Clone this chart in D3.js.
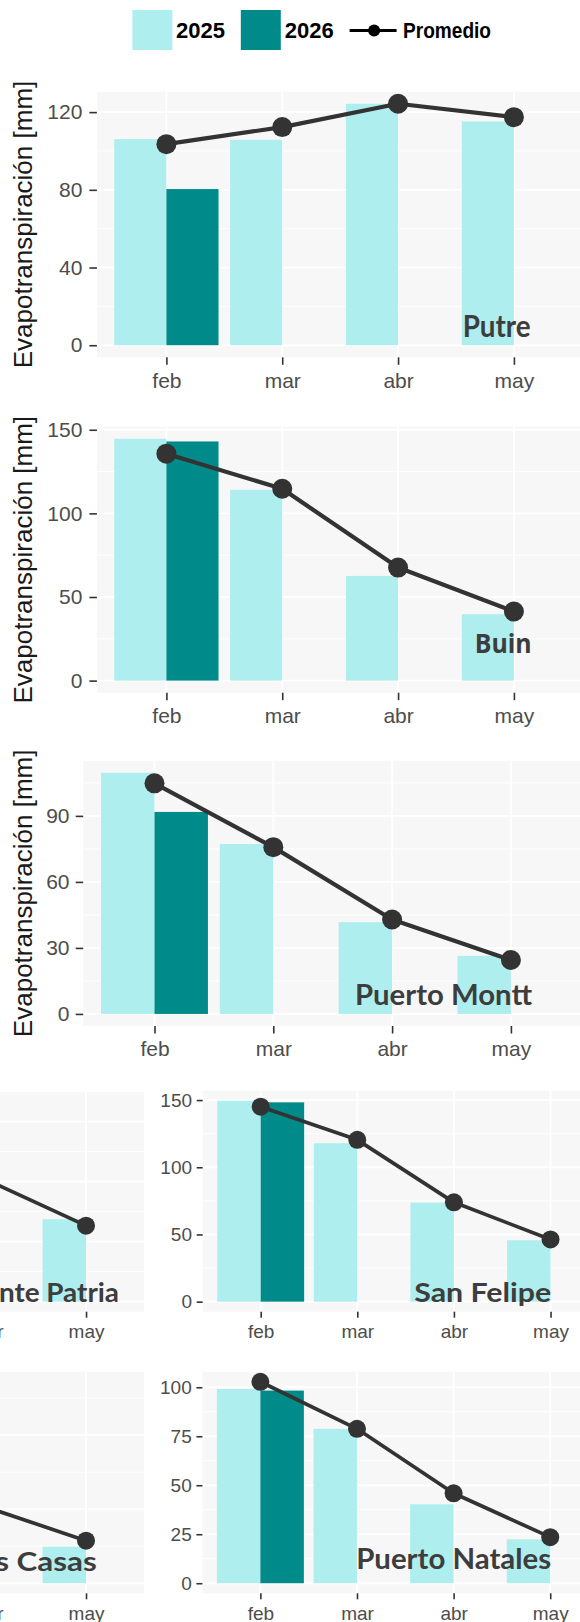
<!DOCTYPE html>
<html>
<head>
<meta charset="utf-8">
<script src="https://cdn.jsdelivr.net/npm/d3@7"></script>
<style>
  html, body { margin: 0; padding: 0; background: #ffffff; }
  svg { display: block; }
</style>
</head>
<body>
<script>
// ---------------- DATA ----------------
const months = ["feb", "mar", "abr", "may"];
const seriesNames = ["2025", "2026", "Promedio"];

const putre2025 = [106.1, 105.8, 124.3, 115.2];
const putre2026 = [80.4, null, null, null];
const putreProm = [103.5, 112.3, 124.3, 117.4];

const buin2025 = [144.6, 114.1, 62.6, 39.7];
const buin2026 = [143.0, null, null, null];
const buinProm = [135.7, 114.7, 67.6, 41.3];

const montt2025 = [109.6, 77.2, 41.7, 26.4];
const montt2026 = [91.8, null, null, null];
const monttProm = [104.8, 75.8, 42.9, 24.5];

const patria2025 = [167.4, 135.0, 96.0, 68.7];
const patria2026 = [160.0, null, null, null];
const patriaProm = [158.0, 132.0, 100.5, 63.3];

const felipe2025 = [149.5, 117.9, 73.7, 45.7];
const felipe2026 = [148.3, null, null, null];
const felipeProm = [145.1, 120.4, 73.9, 46.3];

const casas2025 = [136.0, 90.0, 45.0, 24.7];
const casas2026 = [130.0, null, null, null];
const casasProm = [128.0, 88.0, 50.7, 28.7];

const natales2025 = [99.1, 78.8, 40.3, 22.4];
const natales2026 = [98.3, null, null, null];
const natalesProm = [102.8, 78.8, 45.9, 23.5];

const ticksPutre = [0, 40, 80, 120];
const ticksBuin = [0, 50, 100, 150];
const ticksMontt = [0, 30, 60, 90];
const ticksPatria = [0, 50, 100, 150];
const ticksFelipe = [0, 50, 100, 150];
const ticksCasas = [0, 50, 100];
const ticksNatales = [0, 25, 50, 75, 100];

const yTitle = "Evapotranspiración [mm]";

// ---------------- STYLE / LAYOUT ----------------
const C2025 = "#AFEEEE", C2026 = "#008B8B", CLINE = "#333333";
const PANEL_BG = "#F7F7F7", LABEL_C = "#3D3D3D", AXIS_TXT = "#4D4D4D";

const panels = [
  { name: "Putre", s25: putre2025, s26: putre2026, prom: putreProm, ticks: ticksPutre,
    x0: 96.9, x1: 583.4, y0: 91.7, y1: 357.3, fs: 21, tl: 7.5, tpY: 7, tpX: 8, r: 10, lw: 4.2, title: true,
    lab: { x: 530.7, y: 336.7, size: 30, len: 68, font: "Lato" } },
  { name: "Buin", s25: buin2025, s26: buin2026, prom: buinProm, ticks: ticksBuin,
    x0: 96.9, x1: 583.4, y0: 426.7, y1: 692.7, fs: 21, tl: 7.5, tpY: 7, tpX: 8, r: 10, lw: 4.2, title: true,
    lab: { x: 531.7, y: 652.7, size: 27, len: 57, font: "Open Sans" } },
  { name: "Puerto Montt", s25: montt2025, s26: montt2026, prom: monttProm, ticks: ticksMontt,
    x0: 83.2, x1: 582.2, y0: 760.7, y1: 1026, fs: 21, tl: 7.5, tpY: 6.2, tpX: 8, r: 10, lw: 4.2, title: true,
    lab: { x: 532, y: 1005, size: 28, len: 177, font: "Lato" } },
  { name: "Monte Patria", s25: patria2025, s26: patria2026, prom: patriaProm, ticks: ticksPatria,
    x0: -261.8, x1: 144, y0: 1090.7, y1: 1311.7, fs: 19, tl: 6, tpY: 4.7, tpX: 7, r: 9, lw: 3.7, title: false,
    lab: { x: 119, y: 1301.7, size: 27, len: 162, font: "Lato" } },
  { name: "San Felipe", s25: felipe2025, s26: felipe2026, prom: felipeProm, ticks: ticksFelipe,
    x0: 202.7, x1: 608.5, y0: 1090.7, y1: 1311.7, fs: 19, tl: 6, tpY: 4.7, tpX: 7, r: 9, lw: 3.7, title: false,
    lab: { x: 551.2, y: 1301.7, size: 27, len: 137, font: "Lato" } },
  { name: "Padre Las Casas", s25: casas2025, s26: casas2026, prom: casasProm, ticks: ticksCasas,
    x0: -261.8, x1: 144, y0: 1371.7, y1: 1593.3, fs: 19, tl: 6, tpY: 4.7, tpX: 7, r: 9, lw: 3.7, title: false,
    lab: { x: 96.7, y: 1570.7, size: 26, len: 222, font: "Lato" } },
  { name: "Puerto Natales", s25: natales2025, s26: natales2026, prom: natalesProm, ticks: ticksNatales,
    x0: 202.4, x1: 608.2, y0: 1371.7, y1: 1593.3, fs: 19, tl: 6, tpY: 4.7, tpX: 7, r: 9, lw: 3.7, title: false,
    lab: { x: 551.2, y: 1569.3, size: 28, len: 195, font: "Lato" } }
];

const svg = d3.select("body").append("svg")
  .attr("width", 580).attr("height", 1622)
  .attr("viewBox", "0 0 580 1622");

panels.forEach(p => {
  const g = svg.append("g");
  const x = d3.scalePoint().domain(months).range([p.x0, p.x1]).padding(0.6);
  const bw = 0.45 * x.step();
  const all = [...p.s25, ...p.s26, ...p.prom].filter(v => v != null);
  const mx = d3.max(all);
  const y = d3.scaleLinear().domain([-0.05 * mx, 1.05 * mx]).range([p.y1, p.y0]);
  const [dLo, dHi] = y.domain();

  // background
  g.append("rect").attr("x", p.x0).attr("y", p.y0)
    .attr("width", p.x1 - p.x0).attr("height", p.y1 - p.y0).attr("fill", PANEL_BG);

  // minor gridlines
  const minors = [];
  for (let i = 0; i < p.ticks.length; i++) {
    const step = p.ticks[1] - p.ticks[0];
    const m = p.ticks[i] + step / 2;
    if (m > dLo && m < dHi) minors.push(m);
  }
  g.selectAll(".minor").data(minors).join("line")
    .attr("x1", p.x0).attr("x2", p.x1)
    .attr("y1", d => y(d)).attr("y2", d => y(d))
    .attr("stroke", "#ffffff").attr("stroke-width", 0.9);
  // major gridlines
  g.selectAll(".major").data(p.ticks).join("line")
    .attr("x1", p.x0).attr("x2", p.x1)
    .attr("y1", d => y(d)).attr("y2", d => y(d))
    .attr("stroke", "#ffffff").attr("stroke-width", 1.8);
  g.selectAll(".vmajor").data(months).join("line")
    .attr("x1", d => x(d)).attr("x2", d => x(d))
    .attr("y1", p.y0).attr("y2", p.y1)
    .attr("stroke", "#ffffff").attr("stroke-width", 1.8);

  // bars 2025
  g.selectAll(".b25").data(months.map((m, i) => ({ m, v: p.s25[i] })).filter(d => d.v != null))
    .join("rect")
    .attr("x", d => x(d.m) - bw).attr("width", bw)
    .attr("y", d => y(d.v)).attr("height", d => y(0) - y(d.v))
    .attr("fill", C2025);
  // bars 2026
  g.selectAll(".b26").data(months.map((m, i) => ({ m, v: p.s26[i] })).filter(d => d.v != null))
    .join("rect")
    .attr("x", d => x(d.m)).attr("width", bw)
    .attr("y", d => y(d.v)).attr("height", d => y(0) - y(d.v))
    .attr("fill", C2026);

  // line + points
  const pts = months.map((m, i) => ({ m, v: p.prom[i] }));
  g.append("path").datum(pts)
    .attr("d", d3.line().x(d => x(d.m)).y(d => y(d.v)))
    .attr("fill", "none").attr("stroke", CLINE).attr("stroke-width", p.lw)
    .attr("stroke-linejoin", "round");
  g.selectAll(".pt").data(pts).join("circle")
    .attr("cx", d => x(d.m)).attr("cy", d => y(d.v)).attr("r", p.r)
    .attr("fill", CLINE);

  // station label
  g.append("text")
    .attr("x", p.lab.x).attr("y", p.lab.y)
    .attr("text-anchor", "end")
    .attr("font-family", p.lab.font + ", sans-serif")
    .attr("font-weight", 700)
    .attr("font-size", p.lab.size)
    .attr("fill", LABEL_C)
    .attr("textLength", p.lab.len)
    .attr("lengthAdjust", "spacingAndGlyphs")
    .text(p.name);

  // axes
  const ay = g.append("g").attr("transform", `translate(${p.x0},0)`)
    .call(d3.axisLeft(y).tickValues(p.ticks).tickSize(p.tl).tickPadding(p.tpY).tickFormat(d3.format("d")));
  const ax = g.append("g").attr("transform", `translate(0,${p.y1})`)
    .call(d3.axisBottom(x).tickSize(p.tl).tickPadding(p.tpX));
  [ay, ax].forEach(a => {
    a.select(".domain").remove();
    a.selectAll(".tick line").attr("stroke", "#333333").attr("stroke-width", 1.6);
    a.selectAll(".tick text").attr("fill", AXIS_TXT)
      .attr("font-family", "'Liberation Sans', Arial, sans-serif")
      .attr("font-size", p.fs);
  });

  if (p.title) {
    g.append("text")
      .attr("transform", `translate(31.9,${(p.y0 + p.y1) / 2}) rotate(-90)`)
      .attr("text-anchor", "middle")
      .attr("font-family", "'Liberation Sans', Arial, sans-serif")
      .attr("font-size", 26)
      .attr("fill", "#1a1a1a")
      .text(yTitle);
  }
});

// ---------------- LEGEND ----------------
const leg = svg.append("g");
const legItems = [
  { name: seriesNames[0], type: "rect", color: C2025, kx: 132.4, tx: 176 },
  { name: seriesNames[1], type: "rect", color: C2026, kx: 240.8, tx: 284.8 },
  { name: seriesNames[2], type: "line", color: "#000000", kx: 349.6, tx: 403, len: 88 }
];
legItems.forEach(it => {
  if (it.type === "rect") {
    leg.append("rect").attr("x", it.kx).attr("y", 10).attr("width", 40).attr("height", 40).attr("fill", it.color);
  } else {
    leg.append("line").attr("x1", it.kx).attr("x2", it.kx + 47).attr("y1", 30.5).attr("y2", 30.5)
      .attr("stroke", it.color).attr("stroke-width", 3);
    leg.append("circle").attr("cx", it.kx + 24.5).attr("cy", 30.5).attr("r", 6).attr("fill", it.color);
  }
  const t = leg.append("text").attr("x", it.tx).attr("y", 37.5)
    .attr("font-family", "'Liberation Sans', Arial, sans-serif")
    .attr("font-weight", 700).attr("font-size", 22).attr("fill", "#000")
    .text(it.name);
  if (it.len) t.attr("textLength", it.len).attr("lengthAdjust", "spacingAndGlyphs");
});
</script>
</body>
</html>
